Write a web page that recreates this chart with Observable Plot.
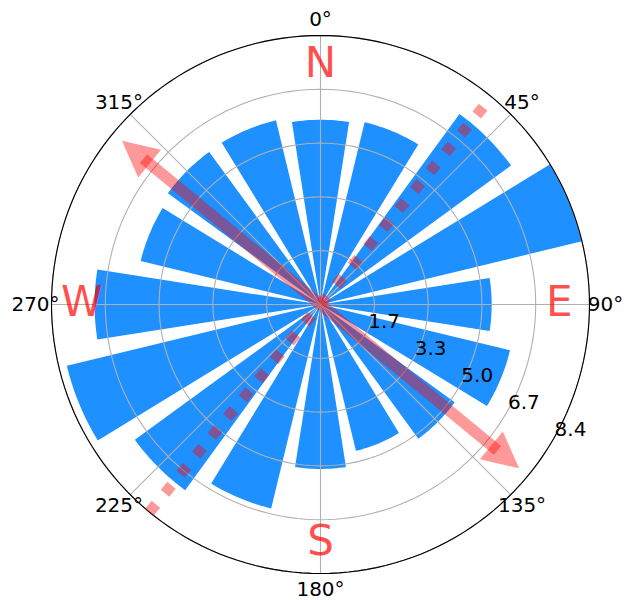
<!DOCTYPE html>
<html>
<head>
<meta charset="utf-8">
<script src="https://cdn.jsdelivr.net/npm/d3@7"></script>
<script src="https://cdn.jsdelivr.net/npm/@observablehq/plot@0.6"></script>
<style>
  html, body { margin: 0; padding: 0; background: #ffffff; }
  #chart { width: 624px; height: 600px; }
</style>
</head>
<body>
<div id="chart"></div>
<script>
// Wind rose: mean value per direction sector (degrees clockwise from north)
const directions = [0, 22.5, 45, 67.5, 90, 112.5, 135, 157.5, 180, 202.5, 225, 247.5, 270, 292.5, 315, 337.5];
const speeds = [5.74, 5.83, 7.33, 8.36, 5.32, 6.06, 5.16, 4.68, 5.11, 6.52, 7.14, 8.11, 7.02, 5.75, 5.87, 5.89];

// Radial axis ticks and their printed labels
const radialTicks = [1.672, 3.344, 5.016, 6.688, 8.36];
const radialLabels = ["1.7", "3.3", "5.0", "6.7", "8.4"];
const radialLabelAngle = 120;

// Angular axis ticks
const angleTicks = [0, 45, 90, 135, 180, 225, 270, 315];
const angleLabels = ["0°", "45°", "90°", "135°", "180°", "225°", "270°", "315°"];

// Compass letters
const compassAngles = [0, 90, 180, 270];
const compassLetters = ["N", "E", "S", "W"];
const compassRadius = 7.42;

// Principal directions: main axis (double arrow) and cross axis (dotted)
const mainAxisAngle = 129.5;
const mainAxisLength = 8.0;
const crossAxisAngle = 39.5;

// ---- layout ----
const W = 624, H = 600, cx = 320, cy = 304, outerPx = 269;
const rMax = d3.max(speeds);
const K = outerPx / rMax;            // pixels per data unit
const rad = (a) => (a * Math.PI) / 180;
const px = (r, a) => r * Math.sin(rad(a));
const py = (r, a) => r * Math.cos(rad(a));

const barWidthDeg = 17.8;
const wedges = directions.flatMap((d, i) => {
  const pts = [{id: i, x: 0, y: 0}];
  const n = 16;
  for (let j = 0; j <= n; j++) {
    const a = d - barWidthDeg / 2 + (barWidthDeg * j) / n;
    pts.push({id: i, x: px(speeds[i], a), y: py(speeds[i], a)});
  }
  return pts;
});

const circle = (r, id) => d3.range(0, 361, 2).map((a) => ({id, x: px(r, a), y: py(r, a)}));
const gridCircles = radialTicks.flatMap((r, i) => circle(r, i));
const spine = circle(rMax, 0);

const spokes = angleTicks.map((a) => ({x1: 0, y1: 0, x2: px(rMax, a), y2: py(rMax, a)}));

// Double-headed arrow along the main axis
const headLen = 36 / K, headHalf = 18 / K, shaftInset = 28 / K;
const arrowEnds = [mainAxisAngle, mainAxisAngle + 180];
const shaft = [{
  x1: px(mainAxisLength - shaftInset, arrowEnds[1]), y1: py(mainAxisLength - shaftInset, arrowEnds[1]),
  x2: px(mainAxisLength - shaftInset, arrowEnds[0]), y2: py(mainAxisLength - shaftInset, arrowEnds[0])
}];
const heads = arrowEnds.flatMap((a, i) => {
  const tipX = px(mainAxisLength, a), tipY = py(mainAxisLength, a);
  const bx = px(mainAxisLength - headLen, a), by = py(mainAxisLength - headLen, a);
  const nx = Math.cos(rad(a)), ny = -Math.sin(rad(a));
  return [
    {id: i, x: tipX, y: tipY},
    {id: i, x: bx + headHalf * nx, y: by + headHalf * ny},
    {id: i, x: bx - headHalf * nx, y: by - headHalf * ny}
  ];
});

const crossLine = [{
  x1: px(rMax, crossAxisAngle + 180), y1: py(rMax, crossAxisAngle + 180),
  x2: px(rMax, crossAxisAngle), y2: py(rMax, crossAxisAngle)
}];

const thetaR = 285 / K;

const chart = Plot.plot({
  width: W,
  height: H,
  margin: 0,
  style: {fontFamily: "DejaVu Sans", background: "white"},
  x: {domain: [-cx / K, (W - cx) / K], axis: null},
  y: {domain: [-(H - cy) / K, cy / K], axis: null},
  marks: [
    Plot.line(wedges, {x: "x", y: "y", z: "id", fill: "#1e90ff", stroke: "none", curve: "linear-closed"}),
    Plot.line(gridCircles, {x: "x", y: "y", z: "id", stroke: "#b0b0b0", strokeWidth: 1.1}),
    Plot.link(spokes, {x1: "x1", y1: "y1", x2: "x2", y2: "y2", stroke: "#b0b0b0", strokeWidth: 1.1}),
    Plot.line(spine, {x: "x", y: "y", z: "id", stroke: "#000000", strokeWidth: 1.1}),
    Plot.link(crossLine, {x1: "x1", y1: "y1", x2: "x2", y2: "y2", stroke: "red", strokeOpacity: 0.4, strokeWidth: 11, strokeDasharray: "10.2,14.3"}),
    Plot.link(shaft, {x1: "x1", y1: "y1", x2: "x2", y2: "y2", stroke: "red", strokeOpacity: 0.4, strokeWidth: 11.5}),
    Plot.line(heads, {x: "x", y: "y", z: "id", fill: "red", fillOpacity: 0.4, stroke: "none", curve: "linear-closed"}),
    Plot.text(radialTicks, {
      x: (r) => px(r, radialLabelAngle), y: (r) => py(r, radialLabelAngle),
      text: (d, i) => radialLabels[i], fontSize: 20, fill: "black", dx: 17, dy: -9.5
    }),
    Plot.text(angleTicks, {
      x: (a) => px(thetaR, a), y: (a) => py(thetaR, a),
      text: (d, i) => angleLabels[i], fontSize: 20, fill: "black"
    }),
    Plot.text(compassAngles, {
      x: (a) => px(compassRadius, a), y: (a) => py(compassRadius, a),
      text: (d, i) => compassLetters[i], fontSize: 42, fill: "red", fillOpacity: 0.7, dy: -2
    })
  ]
});

document.getElementById("chart").appendChild(chart);
</script>
</body>
</html>
